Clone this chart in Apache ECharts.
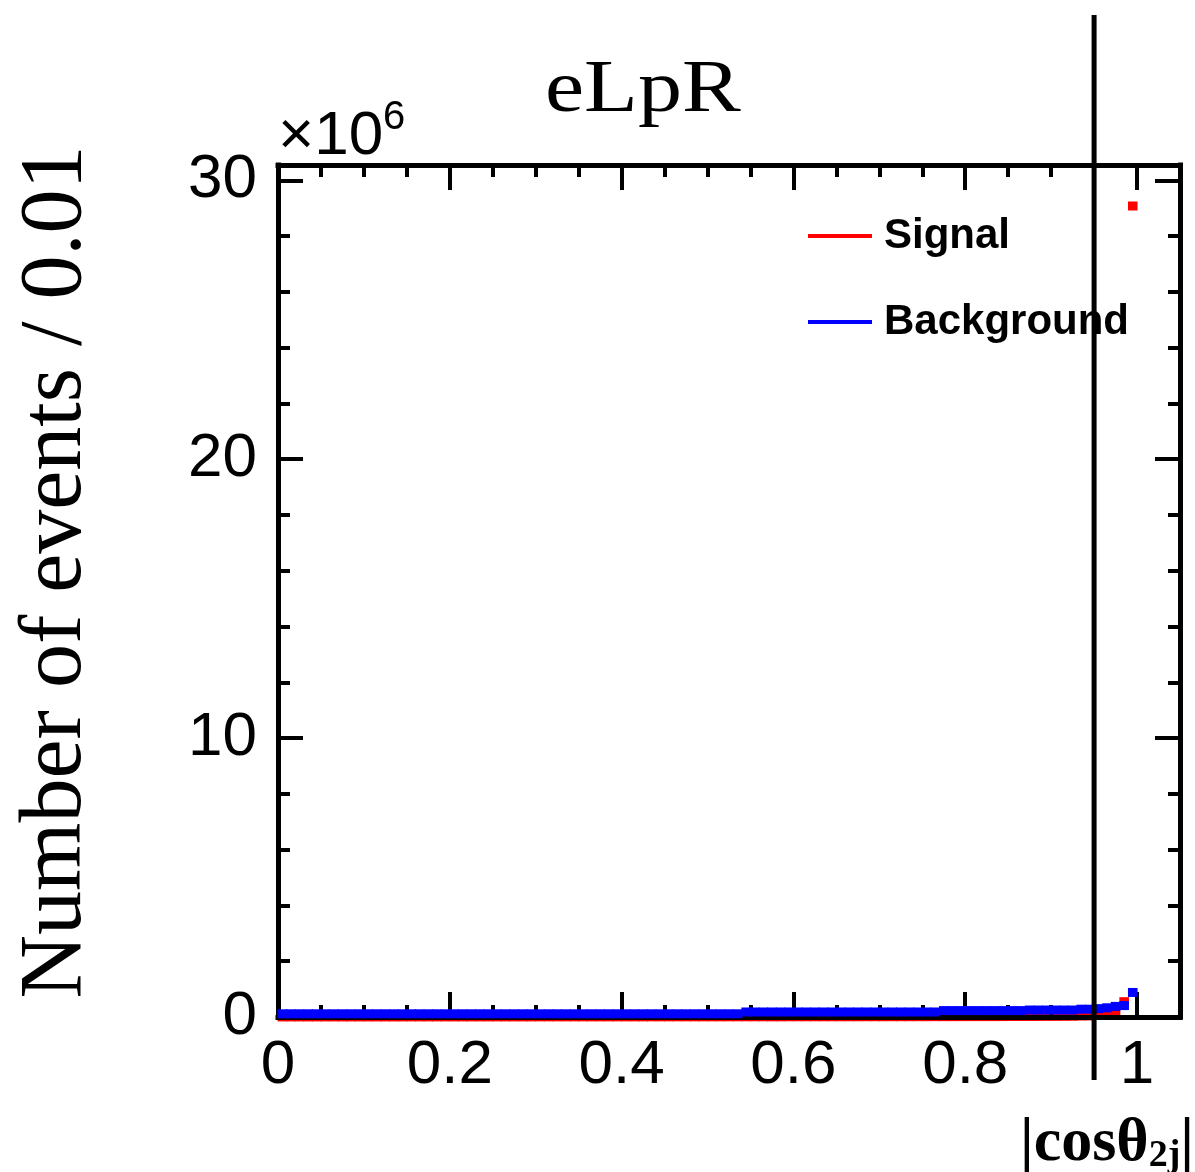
<!DOCTYPE html>
<html>
<head>
<meta charset="utf-8">
<script src="https://cdn.jsdelivr.net/npm/echarts@6/dist/echarts.min.js"></script>
<style>
  html, body { margin: 0; padding: 0; background: #ffffff; }
  #chart { width: 1195px; height: 1172px; }
</style>
</head>
<body>
<div id="chart"></div>
<script>
// |cos theta_2j| histograms, 100 bins of width 0.01, counts in units of 1e6 events
const BIN_WIDTH = 0.01;
const X_TICKS = [0, 0.2, 0.4, 0.6, 0.8, 1];
const Y_TICKS = [0, 10, 20, 30];
const CUT = 0.95;

const SIGNAL = [
  0.002, 0.002, 0.002, 0.002, 0.002, 0.002, 0.002, 0.002, 0.002, 0.002,
  0.002, 0.002, 0.002, 0.002, 0.002, 0.003, 0.003, 0.003, 0.003, 0.003,
  0.003, 0.003, 0.003, 0.003, 0.003, 0.003, 0.003, 0.003, 0.003, 0.003,
  0.004, 0.004, 0.004, 0.004, 0.004, 0.004, 0.004, 0.004, 0.004, 0.004,
  0.004, 0.004, 0.004, 0.005, 0.005, 0.005, 0.005, 0.005, 0.005, 0.005,
  0.005, 0.005, 0.006, 0.006, 0.006, 0.006, 0.006, 0.006, 0.006, 0.007,
  0.007, 0.007, 0.007, 0.007, 0.008, 0.008, 0.008, 0.008, 0.009, 0.009,
  0.009, 0.010, 0.010, 0.010, 0.011, 0.011, 0.012, 0.012, 0.013, 0.013,
  0.014, 0.014, 0.015, 0.015, 0.016, 0.017, 0.018, 0.019, 0.020, 0.021,
  0.022, 0.024, 0.026, 0.035, 0.038, 0.060, 0.090, 0.095, 0.550, 29.08
];

const BACKGROUND = [
  0.115, 0.115, 0.115, 0.115, 0.115, 0.115, 0.115, 0.115, 0.115, 0.115,
  0.115, 0.115, 0.115, 0.115, 0.115, 0.115, 0.115, 0.115, 0.115, 0.115,
  0.115, 0.115, 0.115, 0.115, 0.115, 0.115, 0.115, 0.115, 0.115, 0.115,
  0.115, 0.115, 0.115, 0.115, 0.115, 0.115, 0.115, 0.115, 0.115, 0.115,
  0.115, 0.115, 0.115, 0.115, 0.115, 0.115, 0.115, 0.115, 0.115, 0.115,
  0.115, 0.115, 0.115, 0.115, 0.180, 0.180, 0.180, 0.180, 0.180, 0.180,
  0.180, 0.180, 0.180, 0.180, 0.180, 0.180, 0.180, 0.180, 0.180, 0.180,
  0.180, 0.180, 0.180, 0.180, 0.180, 0.180, 0.180, 0.230, 0.230, 0.230,
  0.230, 0.230, 0.230, 0.230, 0.230, 0.230, 0.230, 0.250, 0.250, 0.250,
  0.250, 0.250, 0.250, 0.280, 0.280, 0.300, 0.330, 0.380, 0.410, 0.880
];

const GRID = { left: 278, right: 15, top: 165, bottom: 155 };
const X_MAX = 1.05;
const Y_MAX = 30.55;

const chart = echarts.init(document.getElementById('chart'), null, { renderer: 'canvas' });

function isTick(list, v) {
  return list.some(t => Math.abs(t - v) < 1e-6);
}

// Each bin is a thick horizontal segment; half a pixel of overlap closes anti-aliasing seams
function histSeries(name, values, color, z) {
  return {
    type: 'custom',
    name: name,
    z: z,
    clip: false,
    silent: true,
    animation: false,
    itemStyle: { color: color },
    encode: { x: [0, 1], y: 2 },
    data: values.map((v, i) => [i * BIN_WIDTH, (i + 1) * BIN_WIDTH, v]),
    renderItem: function (params, api) {
      const a = api.coord([api.value(0), api.value(2)]);
      const b = api.coord([api.value(1), api.value(2)]);
      return {
        type: 'line',
        shape: { x1: a[0] - 0.5, y1: a[1], x2: b[0] + 0.5, y2: b[1] },
        style: { stroke: color, lineWidth: 9, lineCap: 'butt' }
      };
    }
  };
}

const black = '#000000';
const labelFont = { fontFamily: 'Liberation Sans', fontSize: 62, color: black };

function xAxisDef(position, interval, tickLen, showLine, showLabel) {
  return {
    type: 'value', position: position, min: 0, max: X_MAX, interval: interval, z: 2,
    axisLine: { show: showLine, onZero: false, lineStyle: { color: black, width: 5, cap: 'square' } },
    axisTick: { show: true, inside: true, length: tickLen, lineStyle: { color: black, width: 4 } },
    axisLabel: showLabel ? Object.assign({
      show: true, margin: 18, showMaxLabel: false,
      formatter: v => isTick(X_TICKS, v) ? String(Math.round(v * 10) / 10) : ''
    }, labelFont) : { show: false },
    splitLine: { show: false }
  };
}

function yAxisDef(position, interval, tickLen, showLine, showLabel) {
  return {
    type: 'value', position: position, min: 0, max: Y_MAX, interval: interval, z: 2,
    axisLine: { show: showLine, onZero: false, lineStyle: { color: black, width: 5, cap: 'square' } },
    axisTick: { show: true, inside: true, length: tickLen, lineStyle: { color: black, width: 4 } },
    axisLabel: showLabel ? Object.assign({
      show: true, margin: 21, showMaxLabel: false,
      formatter: v => isTick(Y_TICKS, v) ? String(v) : ''
    }, labelFont) : { show: false },
    splitLine: { show: false }
  };
}

const option = {
  backgroundColor: '#ffffff',
  animation: false,
  grid: GRID,
  xAxis: [
    xAxisDef('bottom', 0.2, 25, true, true),
    xAxisDef('bottom', 0.05, 12, false, false),
    xAxisDef('top', 0.2, 25, true, false),
    xAxisDef('top', 0.05, 12, false, false)
  ],
  yAxis: [
    yAxisDef('left', 10, 25, true, true),
    yAxisDef('left', 2, 12, false, false),
    yAxisDef('right', 10, 25, true, false),
    yAxisDef('right', 2, 12, false, false)
  ],
  legend: {
    orient: 'vertical',
    left: 808,
    top: 215,
    padding: 0,
    itemWidth: 64,
    itemHeight: 4,
    itemGap: 44,
    icon: 'rect',
    selectedMode: false,
    textStyle: {
      fontFamily: 'Liberation Sans', fontWeight: 'bold', fontSize: 42, color: black,
      padding: [0, 0, 0, 7]
    },
    data: ['Signal', 'Background']
  },
  series: [
    histSeries('Signal', SIGNAL, '#ff0000', 1),
    histSeries('Background', BACKGROUND, '#0000ff', 3)
  ]
};

chart.setOption(option);

// Cut position marker and text annotations
const cutX = chart.convertToPixel({ xAxisIndex: 0 }, CUT);
chart.setOption({
  graphic: [
    {
      type: 'line', z: 100,
      shape: { x1: cutX, y1: 15, x2: cutX, y2: 1080 },
      style: { stroke: black, lineWidth: 5 }
    },
    {
      type: 'text', z: 100, x: 545, y: 129, scaleX: 1.19, scaleY: 1,
      style: {
        text: 'eLpR', fill: black, fontFamily: 'Liberation Serif', fontSize: 74,
        align: 'left', verticalAlign: 'bottom'
      }
    },
    {
      type: 'text', z: 100, x: 57, y: 572, rotation: Math.PI / 2,
      style: {
        text: 'Number of events / 0.01', fill: black, fontFamily: 'Liberation Serif',
        fontSize: 88, align: 'center', verticalAlign: 'middle'
      }
    },
    {
      type: 'text', z: 100, x: 278, y: 168,
      style: {
        text: '×10', fill: black, fontFamily: 'Liberation Sans', fontSize: 62,
        align: 'left', verticalAlign: 'bottom'
      }
    },
    {
      type: 'text', z: 100, x: 383, y: 98,
      style: {
        text: '6', fill: black, fontFamily: 'Liberation Sans', fontSize: 40,
        align: 'left', verticalAlign: 'top'
      }
    },
    {
      type: 'text', z: 100, x: 1194, y: 1175,
      style: {
        text: '{m||cosθ}{s|2j}{m||}',
        align: 'right', verticalAlign: 'bottom',
        rich: {
          m: { fontFamily: 'Liberation Serif', fontWeight: 'bold', fontSize: 62, fill: black },
          s: { fontFamily: 'Liberation Serif', fontWeight: 'bold', fontSize: 38, fill: black,
               verticalAlign: 'bottom', padding: [0, 0, 0, 0] }
        }
      }
    }
  ]
});
</script>
</body>
</html>
